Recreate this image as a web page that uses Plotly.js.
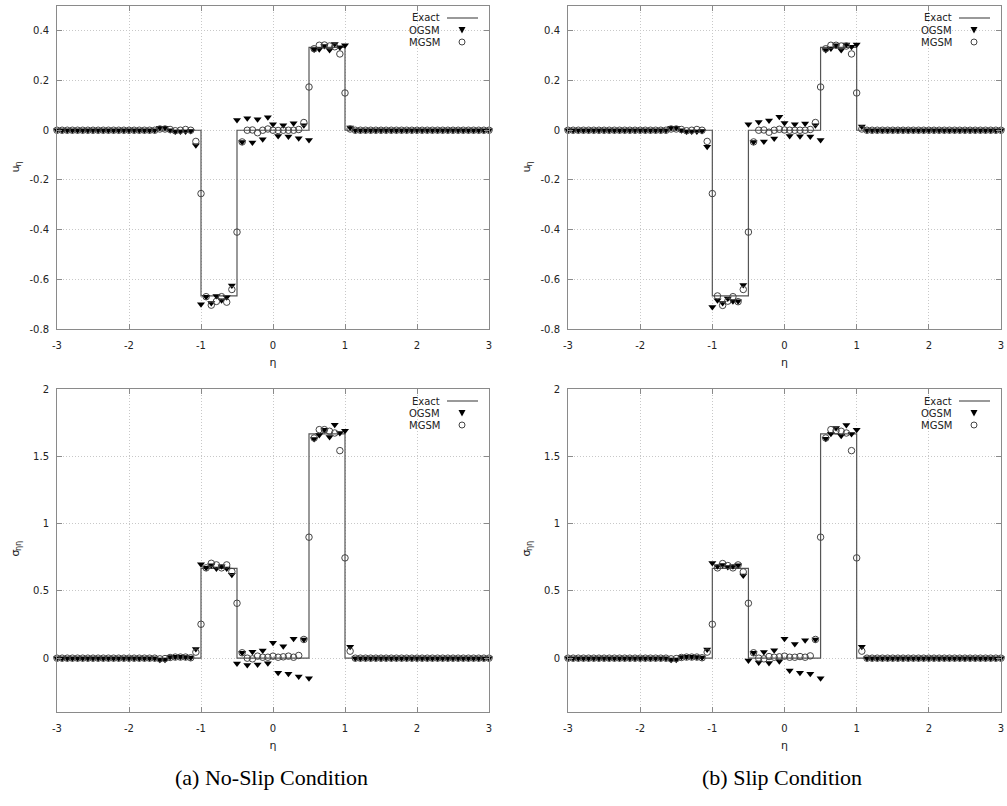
<!DOCTYPE html>
<html>
<head>
<meta charset="utf-8">
<script src="https://cdn.plot.ly/plotly-3.0.1.min.js"></script>
<style>html,body{margin:0;padding:0;background:#fff;}#chart{width:1007px;height:806px;}</style>
</head>
<body>
<div id="chart"></div>
<script>
// ---------- DATA ----------
const ETA = [
 -3, -2.9286, -2.8571, -2.7857, -2.7143, -2.6429, -2.5714,
 -2.5, -2.4286, -2.3571, -2.2857, -2.2143, -2.1429, -2.0714,
 -2, -1.9286, -1.8571, -1.7857, -1.7143, -1.6429, -1.5714,
 -1.5, -1.4286, -1.3571, -1.2857, -1.2143, -1.1429, -1.0714,
 -1, -0.9286, -0.8571, -0.7857, -0.7143, -0.6429, -0.5714,
 -0.5, -0.4286, -0.3571, -0.2857, -0.2143, -0.1429, -0.0714,
 0, 0.0714, 0.1429, 0.2143, 0.2857, 0.3571, 0.4286,
 0.5, 0.5714, 0.6429, 0.7143, 0.7857, 0.8571, 0.9286,
 1, 1.0714, 1.1429, 1.2143, 1.2857, 1.3571, 1.4286,
 1.5, 1.5714, 1.6429, 1.7143, 1.7857, 1.8571, 1.9286,
 2, 2.0714, 2.1429, 2.2143, 2.2857, 2.3571, 2.4286,
 2.5, 2.5714, 2.6429, 2.7143, 2.7857, 2.8571, 2.9286,
 3
];

// Exact step solution breakpoints
const EXACT_X = [-3, -1, -0.5, 0.5, 1, 3];
const EXACT_U = [0, -0.6667, 0, 0.3333, 0, 0];
const EXACT_S = [0, 0.6667, 0, 1.6667, 0, 0];

// (a) No-slip, velocity u_eta
const U_OGSM_A = [
 0,0,0,0,0,0,0,0,0,0,0,0,0,0,0,0,0,0,0,0,
 0.01, 0.01, 0.0, -0.005, -0.005, -0.005, -0.003, -0.06,
 -0.70, -0.67, -0.695, -0.667, -0.684, -0.672, -0.625,
 0.041, -0.047, 0.048, -0.049, 0.044, -0.036, 0.052,
 0.024, -0.023, 0.020, -0.025, 0.028, -0.032, 0.020,
 -0.039, 0.325, 0.326, 0.339, 0.323, 0.347, 0.334,
 0.342, 0.011,
 0,0,0,0,0,0,0,0,0,0,0,0,0,0,0,0,0,0,0,0,0,0,0,0,0,0,0
];
const U_MGSM_A = [
 0,0,0,0,0,0,0,0,0,0,0,0,0,0,0,0,0,0,0,0,
 0.005, 0.005, 0.003, -0.002, 0, 0.003, 0, -0.045,
 -0.255, -0.67, -0.704, -0.689, -0.67, -0.692, -0.641,
 -0.41, -0.047, 0.0, 0.001, -0.01, 0, 0.005,
 0, -0.001, 0, 0, 0, 0.003, 0.031,
 0.174, 0.328, 0.342, 0.343, 0.339, 0.336, 0.307,
 0.15, 0.005,
 0,0,0,0,0,0,0,0,0,0,0,0,0,0,0,0,0,0,0,0,0,0,0,0,0,0,0
];
// (b) Slip, velocity u_eta
const U_OGSM_B = [
 0,0,0,0,0,0,0,0,0,0,0,0,0,0,0,0,0,0,0,0,
 0.01, 0.01, 0.0, -0.005, -0.005, -0.005, -0.003, -0.066,
 -0.711, -0.684, -0.695, -0.677, -0.688, -0.688, -0.623,
 0.024, -0.047, 0.033, -0.045, 0.039, -0.033, 0.054,
 0.029, -0.023, 0.024, -0.024, 0.027, -0.025, 0.020,
 -0.039, 0.323, 0.329, 0.342, 0.323, 0.345, 0.336,
 0.345, 0.015,
 0,0,0,0,0,0,0,0,0,0,0,0,0,0,0,0,0,0,0,0,0,0,0,0,0,0,0
];
const U_MGSM_B = [
 0,0,0,0,0,0,0,0,0,0,0,0,0,0,0,0,0,0,0,0,
 0.005, 0.005, 0.003, -0.002, 0, 0.003, 0, -0.045,
 -0.255, -0.667, -0.705, -0.688, -0.67, -0.69, -0.641,
 -0.41, -0.047, 0, 0.001, -0.008, 0, 0.004,
 0.001, 0, 0, 0, 0, 0.003, 0.031,
 0.174, 0.328, 0.342, 0.342, 0.339, 0.339, 0.307,
 0.15, 0.005,
 0,0,0,0,0,0,0,0,0,0,0,0,0,0,0,0,0,0,0,0,0,0,0,0,0,0,0
];
// (a) No-slip, stress sigma_eta_eta
const S_OGSM_A = [
 0,0,0,0,0,0,0,0,0,0,0,0,0,0,0,0,0,0,0,0,
 -0.012, -0.012, 0.008, 0.01, 0.01, 0.008, 0.005, 0.069,
 0.698, 0.671, 0.69, 0.666, 0.683, 0.666, 0.619,
 -0.04, 0.04, -0.05, 0.047, -0.047, 0.057, -0.037,
 0.114, -0.109, 0.089, -0.116, 0.144, -0.136, 0.139,
 -0.149, 1.629, 1.658, 1.698, 1.644, 1.735, 1.673,
 1.69, 0.084,
 0,0,0,0,0,0,0,0,0,0,0,0,0,0,0,0,0,0,0,0,0,0,0,0,0,0,0
];
const S_MGSM_A = [
 0,0,0,0,0,0,0,0,0,0,0,0,0,0,0,0,0,0,0,0,
 -0.005, -0.003, 0.005, 0.008, 0.008, 0.008, 0.003, 0.045,
 0.252, 0.671, 0.705, 0.693, 0.671, 0.693, 0.644,
 0.408, 0.04, 0, -0.005, 0.015, 0.007, 0.007,
 0.015, 0.007, 0.01, 0.015, 0.007, 0.02, 0.139,
 0.899, 1.636, 1.698, 1.698, 1.686, 1.673, 1.542,
 0.745, 0.052,
 0,0,0,0,0,0,0,0,0,0,0,0,0,0,0,0,0,0,0,0,0,0,0,0,0,0,0
];
// (b) Slip, stress sigma_eta_eta
const S_OGSM_B = [
 0,0,0,0,0,0,0,0,0,0,0,0,0,0,0,0,0,0,0,0,
 -0.012, -0.012, 0.008, 0.01, 0.01, 0.008, 0.005, 0.064,
 0.708, 0.683, 0.693, 0.678, 0.683, 0.69, 0.614,
 -0.017, 0.04, -0.032, 0.045, -0.035, 0.059, -0.022,
 0.144, -0.092, 0.106, -0.109, 0.134, -0.116, 0.139,
 -0.149, 1.631, 1.668, 1.71, 1.653, 1.733, 1.666,
 1.698, 0.084,
 0,0,0,0,0,0,0,0,0,0,0,0,0,0,0,0,0,0,0,0,0,0,0,0,0,0,0
];
const S_MGSM_B = [
 0,0,0,0,0,0,0,0,0,0,0,0,0,0,0,0,0,0,0,0,
 -0.005, -0.003, 0.005, 0.008, 0.008, 0.008, 0.003, 0.045,
 0.252, 0.671, 0.703, 0.688, 0.671, 0.693, 0.641,
 0.408, 0.04, 0, -0.005, 0.012, 0.007, 0.01,
 0.015, 0.007, 0.007, 0.012, 0.007, 0.017, 0.139,
 0.899, 1.636, 1.698, 1.69, 1.686, 1.673, 1.542,
 0.745, 0.052,
 0,0,0,0,0,0,0,0,0,0,0,0,0,0,0,0,0,0,0,0,0,0,0,0,0,0,0
];

const X_TICKS = [-3, -2, -1, 0, 1, 2, 3];
const X_TICK_TEXT = ['-3', '-2', '-1', '0', '1', '2', '3'];
const U_TICKS = [-0.8, -0.6, -0.4, -0.2, 0, 0.2, 0.4];
const U_TICK_TEXT = ['-0.8', '-0.6', '-0.4', '-0.2', '0', '0.2', '0.4'];
const S_TICKS = [0, 0.5, 1, 1.5, 2];
const S_TICK_TEXT = ['0', '0.5', '1', '1.5', '2'];
const SERIES_NAMES = ['Exact', 'OGSM', 'MGSM'];
const X_TITLE = 'η';
const U_TITLE = ['u', 'η'];      // base, subscript
const S_TITLE = ['σ', 'ηη'];     // base, subscript
const CAPTIONS = ['(a) No-Slip Condition', '(b) Slip Condition'];

// ---------- LAYOUT HELPERS ----------
const W = 1007, H = 806;
const px = x => x / W;
const py = y => 1 - y / H;

// plot boxes in pixels: [left, right, top, bottom]
const BOX = {
  tl: [57, 489, 6, 329],
  tr: [568, 1001, 6, 329],
  bl: [57, 489, 389, 712],
  br: [568, 1001, 389, 712]
};

const FONT = {family: 'DejaVu Sans, Verdana, sans-serif', size: 10, color: '#222'};
const AX_FONT = {family: 'DejaVu Sans, Verdana, sans-serif', size: 11, color: '#222'};
const SUB_FONT = {family: 'DejaVu Sans, Verdana, sans-serif', size: 8, color: '#222'};

function xAxis(box, anchor) {
  return {
    domain: [px(box[0]), px(box[1])], anchor: anchor,
    range: [-3, 3], tickmode: 'array', tickvals: X_TICKS, ticktext: X_TICK_TEXT,
    showline: true, linecolor: '#8a8a8a', linewidth: 1, mirror: 'ticks',
    ticks: 'inside', ticklen: 5, tickcolor: '#8a8a8a', ticklabelstandoff: 7,
    showgrid: true, gridcolor: '#c8c8c8', griddash: '1px,2px', gridwidth: 1,
    zeroline: false, tickfont: FONT, fixedrange: true, automargin: false,
    title: {text: X_TITLE, font: AX_FONT, standoff: 8}
  };
}
function yAxis(box, anchor, range, tv, tt) {
  return {
    domain: [py(box[3]), py(box[2])], anchor: anchor,
    range: range, tickmode: 'array', tickvals: tv, ticktext: tt,
    showline: true, linecolor: '#8a8a8a', linewidth: 1, mirror: 'ticks',
    ticks: 'inside', ticklen: 5, tickcolor: '#8a8a8a', ticklabelstandoff: 5,
    showgrid: true, gridcolor: '#c8c8c8', griddash: '1px,2px', gridwidth: 1,
    zeroline: false, tickfont: FONT, fixedrange: true, automargin: false
  };
}

function panelTraces(xa, ya, exactY, ogsm, mgsm) {
  return [
    {x: EXACT_X, y: exactY, xaxis: xa, yaxis: ya, type: 'scatter', mode: 'lines',
     line: {shape: 'hv', color: '#555', width: 1.2}, name: SERIES_NAMES[0], showlegend: false, hoverinfo: 'skip'},
    {x: ETA, y: ogsm, xaxis: xa, yaxis: ya, type: 'scatter', mode: 'markers', cliponaxis: false,
     marker: {symbol: 'triangle-down', size: 7, color: '#000'}, name: SERIES_NAMES[1], showlegend: false},
    {x: ETA, y: mgsm, xaxis: xa, yaxis: ya, type: 'scatter', mode: 'markers', cliponaxis: false,
     marker: {symbol: 'circle-open', size: 6.5, color: '#444', line: {width: 1, color: '#444'}}, name: SERIES_NAMES[2], showlegend: false}
  ];
}

const data = [].concat(
  panelTraces('x', 'y', EXACT_U, U_OGSM_A, U_MGSM_A),
  panelTraces('x2', 'y2', EXACT_U, U_OGSM_B, U_MGSM_B),
  panelTraces('x3', 'y3', EXACT_S, S_OGSM_A, S_MGSM_A),
  panelTraces('x4', 'y4', EXACT_S, S_OGSM_B, S_MGSM_B)
);

// ---------- ANNOTATIONS & LEGEND SHAPES ----------
const annotations = [];
const shapes = [];
function addText(text, x, y, opts) {
  annotations.push(Object.assign({
    text: text, xref: 'paper', yref: 'paper', x: px(x), y: py(y),
    xanchor: 'center', yanchor: 'middle', showarrow: false, font: FONT
  }, opts || {}));
}

function legend(box) {
  const right = box[1];
  const top = box[2];
  const tx = right - 47;             // right edge of legend text
  const rows = [top + 12, top + 24, top + 36];
  addText(SERIES_NAMES[0], tx, rows[0], {xanchor: 'right'});
  addText(SERIES_NAMES[1], tx, rows[1], {xanchor: 'right'});
  addText(SERIES_NAMES[2], tx, rows[2], {xanchor: 'right'});
  shapes.push({type: 'line', xref: 'paper', yref: 'paper',
    x0: px(right - 42), x1: px(right - 11), y0: py(rows[0]), y1: py(rows[0]),
    line: {color: '#555', width: 1.2}});
  const cx = right - 27;
  const r = rows[1];
  shapes.push({type: 'path', xref: 'paper', yref: 'paper',
    path: 'M ' + px(cx - 3.5) + ',' + py(r - 3) + ' L ' + px(cx + 3.5) + ',' + py(r - 3) +
          ' L ' + px(cx) + ',' + py(r + 3.5) + ' Z',
    fillcolor: '#000', line: {width: 0}});
  const c = rows[2];
  shapes.push({type: 'circle', xref: 'paper', yref: 'paper',
    x0: px(cx - 3), x1: px(cx + 3), y0: py(c + 3), y1: py(c - 3),
    line: {color: '#444', width: 1}});
}
legend(BOX.tl); legend(BOX.tr); legend(BOX.bl); legend(BOX.br);

// rotated y-axis titles (base letter + smaller subscript above it, shifted toward baseline side)
function yTitle(parts, x, y) {
  addText(parts[0], x, y, {textangle: -90, font: AX_FONT, yanchor: 'top', borderpad: 0});
  addText(parts[1], x + 3, y + 3, {textangle: -90, font: SUB_FONT, yanchor: 'bottom', borderpad: 0});
}
yTitle(U_TITLE, 15, 165);
yTitle(U_TITLE, 526, 165);
yTitle(S_TITLE, 15, 549);
yTitle(S_TITLE, 526, 549);

// captions
const CAP_FONT = {family: 'Liberation Serif, Times New Roman, serif', size: 22, color: '#000'};
addText(CAPTIONS[0], 271, 777, {font: CAP_FONT});
addText(CAPTIONS[1], 782, 777, {font: CAP_FONT});

const layout = {
  width: W, height: H,
  margin: {l: 0, r: 0, t: 0, b: 0, pad: 0},
  paper_bgcolor: '#fff', plot_bgcolor: '#fff',
  showlegend: false,
  xaxis: xAxis(BOX.tl, 'y'),
  yaxis: yAxis(BOX.tl, 'x', [-0.8, 0.5], U_TICKS, U_TICK_TEXT),
  xaxis2: xAxis(BOX.tr, 'y2'),
  yaxis2: yAxis(BOX.tr, 'x2', [-0.8, 0.5], U_TICKS, U_TICK_TEXT),
  xaxis3: xAxis(BOX.bl, 'y3'),
  yaxis3: yAxis(BOX.bl, 'x3', [-0.4, 2], S_TICKS, S_TICK_TEXT),
  xaxis4: xAxis(BOX.br, 'y4'),
  yaxis4: yAxis(BOX.br, 'x4', [-0.4, 2], S_TICKS, S_TICK_TEXT),
  annotations: annotations,
  shapes: shapes
};

Plotly.newPlot('chart', data, layout, {displayModeBar: false, staticPlot: true});
</script>
</body>
</html>
